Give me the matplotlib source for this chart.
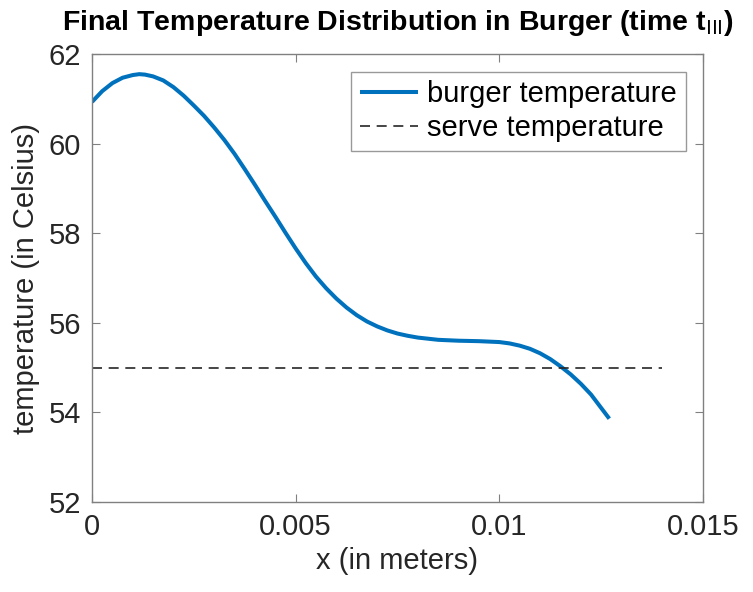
import matplotlib
matplotlib.use("Agg")
import matplotlib.pyplot as plt

# Burger temperature profile
x_pos = [0.0, 0.00025, 0.0005, 0.00075, 0.001, 0.00116, 0.0013, 0.0015, 0.00175, 0.002,
         0.00225, 0.0025, 0.00275, 0.003, 0.00325, 0.0035, 0.00375, 0.004, 0.00425, 0.0045,
         0.00475, 0.005, 0.00525, 0.0055, 0.00575, 0.006, 0.00625, 0.0065, 0.00675, 0.007,
         0.00725, 0.0075, 0.00775, 0.008, 0.0085, 0.009, 0.0095, 0.01, 0.01025, 0.0105,
         0.01075, 0.011, 0.01125, 0.0115, 0.01175, 0.012, 0.01225, 0.0125, 0.0127]
temps = [60.93, 61.17, 61.35, 61.47, 61.53, 61.55, 61.54, 61.5, 61.41, 61.26,
         61.07, 60.85, 60.62, 60.36, 60.08, 59.77, 59.43, 59.08, 58.72, 58.37,
         58.01, 57.66, 57.33, 57.03, 56.77, 56.54, 56.34, 56.17, 56.03, 55.92,
         55.83, 55.76, 55.71, 55.67, 55.62, 55.6, 55.59, 55.57, 55.54, 55.49,
         55.42, 55.32, 55.19, 55.03, 54.85, 54.64, 54.4, 54.1, 53.86]

serve_x = [0.0, 0.014]
serve_t = [55.0, 55.0]

x_ticks = [0, 0.005, 0.01, 0.015]
x_ticklabels = ["0", "0.005", "0.01", "0.015"]
y_ticks = [52, 54, 56, 58, 60, 62]

plt.rcParams['font.family'] = ['Liberation Sans', 'DejaVu Sans']

fig = plt.figure(figsize=(7.53, 5.92), dpi=100)
ax = fig.add_axes([92/753, 1 - 502/592, (703-92)/753, (502-54)/592])

ax.plot(x_pos, temps, color='#0072BD', lw=2.9, label='burger temperature',
        solid_joinstyle='round', solid_capstyle='butt')
ax.plot(serve_x, serve_t, color='#262626', lw=1.2, ls=(0, (6, 4)), label='serve temperature')

ax.set_xlim(0, 0.015)
ax.set_ylim(52, 62)
ax.set_xticks(x_ticks)
ax.set_xticklabels(x_ticklabels)
ax.set_yticks(y_ticks)
ax.tick_params(direction='in', top=True, right=True, labelsize=21, length=6,
               color='#808080', labelcolor='#262626', pad=8)
for s in ax.spines.values():
    s.set_color('#808080')
    s.set_linewidth(1.0)

ax.set_xlabel('x (in meters)', fontsize=21, color='#262626', labelpad=4)
ax.set_ylabel('temperature (in Celsius)', fontsize=21, color='#262626', labelpad=6)
ax.set_title(r'Final Temperature Distribution in Burger (time t$_{\mathrm{III}}$)',
             fontsize=20.5, fontweight='bold', pad=17)

leg = ax.legend(loc='upper right', fontsize=21, frameon=True, fancybox=False,
                edgecolor='#808080', handlelength=2.0, handletextpad=0.3,
                borderpad=0.3, labelspacing=0.2, borderaxespad=0.6)
leg.get_frame().set_linewidth(1.0)

fig.savefig('out.png', dpi=100)
